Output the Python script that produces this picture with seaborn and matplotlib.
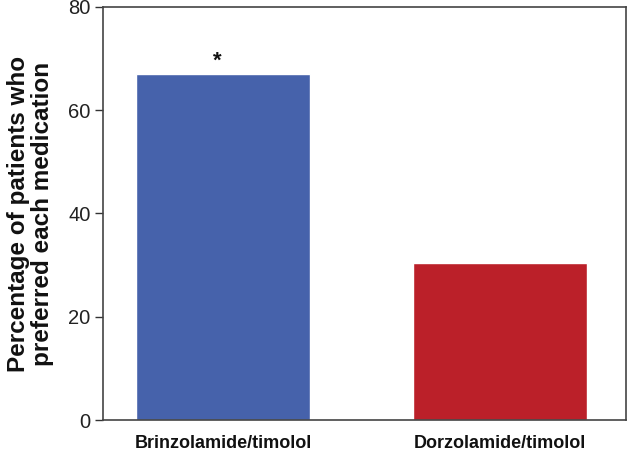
import matplotlib
matplotlib.use('Agg')
import matplotlib.pyplot as plt
import seaborn as sns
import pandas as pd

# dados
medicamentos = ['Brinzolamide/timolol', 'Dorzolamide/timolol']
percentuais = [67.0, 30.4]
cores = ['#4662ab', '#bb2029']

sns.set_theme(style='white')
plt.rcParams['font.family'] = ['Liberation Sans', 'DejaVu Sans']

df = pd.DataFrame({'medicamento': medicamentos, 'pct': percentuais})

fig = plt.figure(figsize=(6.28, 4.54), dpi=100)
ax = fig.add_axes([103 / 628, 34 / 454, 523 / 628, 413 / 454])

sns.barplot(
    x='medicamento',
    y='pct',
    hue='medicamento',
    data=df,
    palette=cores,
    saturation=1,
    width=0.63,
    legend=False,
    ax=ax
)

ax.set_xlim(-0.433, 1.455)
ax.set_ylim(0, 80)
ax.set_yticks([0, 20, 40, 60, 80])
ax.tick_params(axis='y', direction='out', length=6, width=1,
               labelsize=14.5, colors='#333333', labelcolor='#222222',
               left=True, pad=3)
ax.tick_params(axis='x', length=0, pad=11)
for lbl in ax.get_xticklabels():
    lbl.set_fontweight('bold')
    lbl.set_fontsize(13)
    lbl.set_color('#111111')

for s in ax.spines.values():
    s.set_color('#444444')
    s.set_linewidth(1.2)

ax.set_xlabel('')
ax.set_ylabel('Percentage of patients who\npreferred each medication',
              fontsize=17.5, fontweight='bold', labelpad=10, linespacing=1.08,
              color='#111111')

ax.annotate('*', (0, percentuais[0]), xytext=(-4, 2), textcoords='offset points',
            ha='center', va='bottom', fontsize=16, fontweight='bold',
            color='#111111')

fig.savefig('out.png', dpi=100)
